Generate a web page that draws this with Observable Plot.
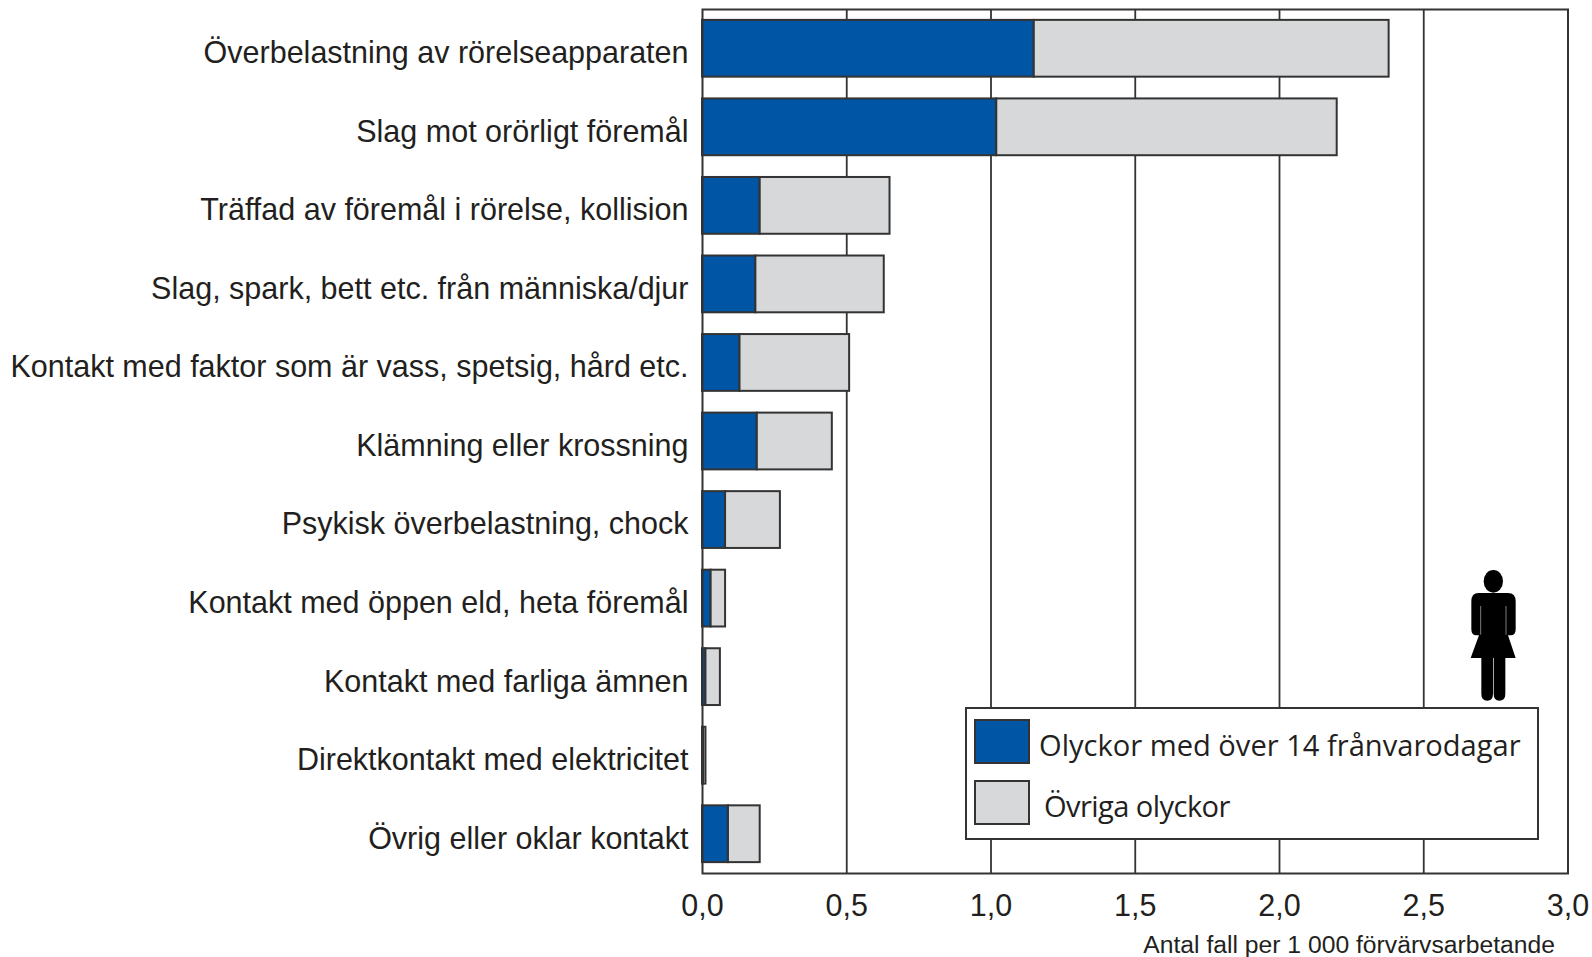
<!DOCTYPE html>
<html><head><meta charset="utf-8">
<script src="https://cdn.jsdelivr.net/npm/d3@7"></script>
<script src="https://cdn.jsdelivr.net/npm/@observablehq/plot@0.6"></script>
<style>
html,body{margin:0;padding:0;background:#fff;}
#wrap{position:relative;width:1592px;height:957px;overflow:hidden;}
#legend{position:absolute;left:965px;top:707px;width:570px;height:129px;background:#fff;border:2px solid #333;box-sizing:content-box;font-family:"Open Sans",sans-serif;font-size:29.1px;color:#231f20;}
#legend .sw{position:absolute;left:7px;width:52px;height:41px;border:2px solid #333;}
#legend .lb{position:absolute;white-space:nowrap;line-height:36px;}
#person{position:absolute;left:1400px;top:540px;width:192px;height:180px;}
</style></head><body>
<div id="wrap">
<div id="chart"></div>
<div id="legend"></div>
<svg id="person" viewBox="0 0 576 540">
<g fill="#000">
<ellipse cx="280" cy="124" rx="29" ry="34"/>
<path d="M236 159H324Q347 159 347 184V268Q347 286 332 286H324L347 354H316V462Q316 482 298 482Q281 482 281 462V354H279V462Q279 482 262 482Q244 482 244 462V354H212L237 286H229Q214 286 214 268V184Q214 159 236 159Z"/>
</g>
<g stroke="#bbb" stroke-width="2"><line x1="242" y1="198" x2="242" y2="284"/><line x1="318" y1="198" x2="318" y2="284"/></g>
</svg>
</div>
<script>
const categories = [
  "Överbelastning av rörelseapparaten",
  "Slag mot orörligt föremål",
  "Träffad av föremål i rörelse, kollision",
  "Slag, spark, bett etc. från människa/djur",
  "Kontakt med faktor som är vass, spetsig, hård etc.",
  "Klämning eller krossning",
  "Psykisk överbelastning, chock",
  "Kontakt med öppen eld, heta föremål",
  "Kontakt med farliga ämnen",
  "Direktkontakt med elektricitet",
  "Övrig eller oklar kontakt"
];
const seriesNames = ["Olyckor med över 14 frånvarodagar", "Övriga olyckor"];
const over14 = [1.15, 1.02, 0.20, 0.185, 0.13, 0.19, 0.08, 0.03, 0.012, 0.004, 0.09];
const other  = [1.23, 1.18, 0.45, 0.445, 0.38, 0.26, 0.19, 0.05, 0.05, 0.008, 0.11];
const colors = ["#0055a4", "#d7d8da"];
const xTicks = [0, 0.5, 1, 1.5, 2, 2.5, 3];
const axisTitle = "Antal fall per 1 000 förvärvsarbetande";

const rows = categories.flatMap((c, i) => [
  {cat: c, series: seriesNames[0], value: over14[i]},
  {cat: c, series: seriesNames[1], value: other[i]}
]);
const fmt = d => d.toFixed(1).replace(".", ",");
const textFont = "'Liberation Sans', Arial, sans-serif";

const chart = Plot.plot({
  width: 1592, height: 957,
  marginLeft: 702, marginRight: 24.5, marginTop: 9, marginBottom: 84,
  style: {background: "#fff", fontFamily: textFont, color: "#231f20", overflow: "visible"},
  x: {domain: [0, 3], ticks: xTicks},
  y: {domain: categories, paddingInner: 0.277, paddingOuter: 0.1385, round: false, label: null},
  color: {domain: seriesNames, range: colors},
  marks: [
    Plot.ruleX(xTicks.slice(1, -1), {stroke: "#333", strokeWidth: 1.8}),
    Plot.barX(rows, {x: "value", y: "cat", fill: "series", order: seriesNames, stroke: "#333", strokeWidth: 2}),
    Plot.frame({stroke: "#333", strokeWidth: 2}),
    Plot.axisY({tickSize: 0, tickPadding: 14, dy: 4.6, fontSize: 30.5, label: null, marginLeft: 702, textOverflow: null, lineWidth: Infinity}),
    Plot.axisX({ticks: xTicks, tickFormat: fmt, tickSize: 0, tickPadding: 21, fontSize: 30.5, label: null}),
    Plot.text([axisTitle], {frameAnchor: "bottom-right", dx: -13, dy: 79, fontSize: 24.7, lineAnchor: "bottom", fill: "#231f20"})
  ]
});
document.getElementById("chart").appendChild(chart);

const legend = document.getElementById("legend");
seriesNames.forEach((s, i) => {
  const sw = document.createElement("div");
  sw.className = "sw";
  sw.style.top = (10 + i * 61) + "px";
  sw.style.background = colors[i];
  legend.appendChild(sw);
  const lb = document.createElement("div");
  lb.className = "lb";
  lb.textContent = s;
  lb.style.left = (i === 0 ? 72 : 77) + "px";
  lb.style.top = (i === 0 ? 18 : 79) + "px";
  if (i === 1) lb.style.letterSpacing = "-0.58px";
  legend.appendChild(lb);
});
</script>
</body></html>
